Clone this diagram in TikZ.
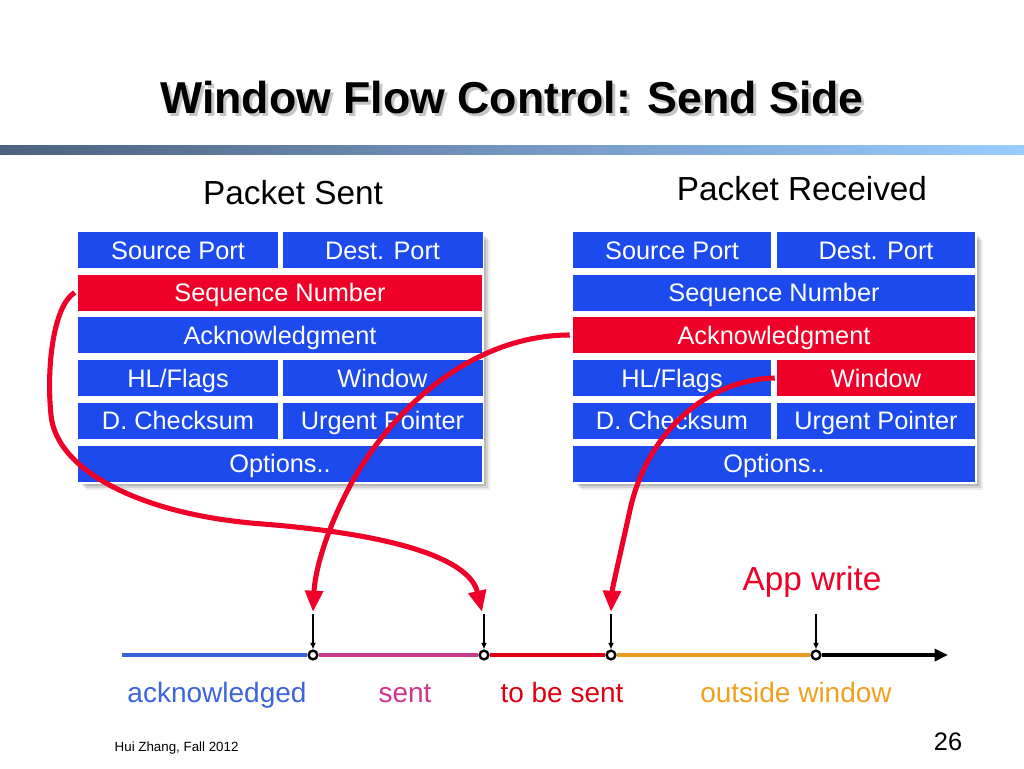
\documentclass[tikz,border=0pt]{standalone}
\usepackage{fontspec}
\setmainfont{Liberation Sans}
\usetikzlibrary{arrows.meta,calc}
\definecolor{pblue}{RGB}{28,74,236}
\definecolor{pred}{RGB}{238,0,40}
\definecolor{tlblue}{RGB}{58,99,216}
\definecolor{tlmag}{RGB}{196,60,140}
\definecolor{tlred}{RGB}{224,0,18}
\definecolor{tlorange}{RGB}{232,156,32}
\definecolor{lblblue}{RGB}{60,100,220}
\definecolor{lblmag}{RGB}{208,53,143}
\definecolor{lblorange}{RGB}{240,160,32}
\definecolor{barL}{RGB}{76,97,128}
\definecolor{barR}{RGB}{153,204,255}
\begin{document}
\begin{tikzpicture}[x=0.75pt,y=-0.75pt,
  cell/.style={rectangle, inner sep=0pt, fill=pblue, text=white,
    font=\fontsize{19}{19}\selectfont, text height=13.6pt, text depth=0pt,
    minimum height=27pt},
  redcell/.style={cell, fill=pred},
  lhalf/.style={minimum width=150pt},
  lfull/.style={minimum width=303pt},
  rhalf/.style={minimum width=148.5pt},
  rfull/.style={minimum width=301.5pt},
  redarrow/.style={draw=pred, line width=3.8pt, -{Triangle[length=16pt,width=13pt]}},
  tickarrow/.style={draw=black, line width=1.1pt, -{Latex[length=5pt,width=4.5pt]}},
  dot/.style={circle, draw=black, fill=white, line width=1.8pt, minimum size=6.5pt, inner sep=0pt},
  seg/.style={line width=3pt},
  lbl/.style={anchor=base, font=\fontsize{21}{21}\selectfont},
  head/.style={anchor=base, font=\fontsize{25}{25}\selectfont}
]
\useasboundingbox (0,0) rectangle (1024,768);
\fill[white] (0,0) rectangle (1024,768);

% title with its shadow
\node[anchor=base, text=black!45, opacity=0.5, font=\fontsize{33.5}{33.5}\bfseries] (titleshadow) at (515,116.5) {Window Flow Control: Send Side};
\node[anchor=base, font=\fontsize{33.5}{33.5}\bfseries] (title) at (512,113) {Window Flow Control: Send Side};
\shade[left color=barL, right color=barR] (0,145) rectangle (1024,154);

% headings
\node[head] (hsent) at (293,204) {Packet Sent};
\node[head] (hrecv) at (802,200) {Packet Received};

% shadows of tables
\foreach \d/\op in {8/0.08,6/0.10,4/0.12,2/0.12}{
  \fill[black,opacity=\op] (78+\d,232+\d) rectangle (482+\d,482+\d);
  \fill[black,opacity=\op] (573+\d,232+\d) rectangle (975+\d,482+\d);
}
\fill[white] (76,230) rectangle (484,484);
\fill[white] (571,230) rectangle (977,484);

% left table
\node[cell,lhalf] (LSrc) at (178,250) {Source Port};
\node[cell,lhalf] (LDst) at (382.5,250) {Dest. Port};
\node[redcell,lfull] (LSeq) at (280,292.5) {Sequence Number};
\node[cell,lfull] (LAck) at (280,335) {Acknowledgment};
\node[cell,lhalf] (LHL) at (178,378) {HL/Flags};
\node[cell,lhalf] (LWin) at (382.5,378) {Window};
\node[cell,lhalf] (LCk) at (178,420.5) {D. Checksum};
\node[cell,lhalf] (LUrg) at (382.5,420.5) {Urgent Pointer};
\node[cell,lfull] (LOpt) at (280,463.5) {Options..};

% right table
\node[cell,rhalf] (RSrc) at (672,250) {Source Port};
\node[cell,rhalf] (RDst) at (876,250) {Dest. Port};
\node[cell,rfull] (RSeq) at (774,292.5) {Sequence Number};
\node[redcell,rfull] (RAck) at (774,335) {Acknowledgment};
\node[cell,rhalf] (RHL) at (672,378) {HL/Flags};
\node[redcell,rhalf] (RWin) at (876,378) {Window};
\node[cell,rhalf] (RCk) at (672,420.5) {D. Checksum};
\node[cell,rhalf] (RUrg) at (876,420.5) {Urgent Pointer};
\node[cell,rfull] (ROpt) at (774,463.5) {Options..};

% timeline
\coordinate (tstart) at (122,655);
\coordinate (tend) at (948,655);
\node[dot] (c1) at (313,655) {};
\node[dot] (c2) at (484,655) {};
\node[dot] (c3) at (611,655) {};
\node[dot] (c4) at (816,655) {};
\draw[seg, tlblue] (tstart) -- (c1.west);
\draw[seg, tlmag] (c1.east) -- (c2.west);
\draw[seg, tlred] (c2.east) -- (c3.west);
\draw[seg, tlorange] (c3.east) -- (c4.west);
\draw[seg, black, -{Triangle[length=10pt,width=9pt]}] (c4.east) -- (tend);

\coordinate (t1) at (313,614);
\coordinate (t2) at (484,614);
\coordinate (t3) at (611,614);
\coordinate (t4) at (816,614);
\draw[tickarrow] (t1) -- (c1.north);
\draw[tickarrow] (t2) -- (c2.north);
\draw[tickarrow] (t3) -- (c3.north);
\draw[tickarrow] (t4) -- (c4.north);

\coordinate (a1) at (313,612);
\coordinate (a2) at (482,612);
\coordinate (a3) at (611,612);

% red arrows
\draw[redarrow] ([xshift=-2.25pt]LSeq.west) .. controls (54,305) and (46,365) .. (51,415)
  .. controls (56,470) and (140,515) .. (263,524)
  .. controls (400,535) and (470,560) .. (a2);
\draw[redarrow] ([xshift=-2.25pt]RAck.west) .. controls (475,335) and (395,405) .. (352,482)
  .. controls (325,532) and (315,572) .. (a1);
\draw[redarrow] ([xshift=-1.5pt]RWin.west) .. controls (700,380) and (645,440) .. (630,510)
  .. controls (620,555) and (612,590) .. (a3);

% labels
\node[lbl, text=pred, font=\fontsize{25}{25}\selectfont] (appw) at (812,590) {App write};
\node[lbl, text=lblblue] (lack) at (217,702) {acknowledged};
\node[lbl, text=lblmag] (lsent) at (405,702) {sent};
\node[lbl, text=tlred] (ltbs) at (562,702) {to be sent};
\node[lbl, text=lblorange] (lout) at (796,702) {outside window};

% footer
\node[anchor=base west, font=\fontsize{10}{10}\selectfont] (foot) at (110,751) {Hui Zhang, Fall 2012};
\node[anchor=base, font=\fontsize{19}{19}\selectfont] (pnum) at (948,750) {26};
\end{tikzpicture}
\end{document}
